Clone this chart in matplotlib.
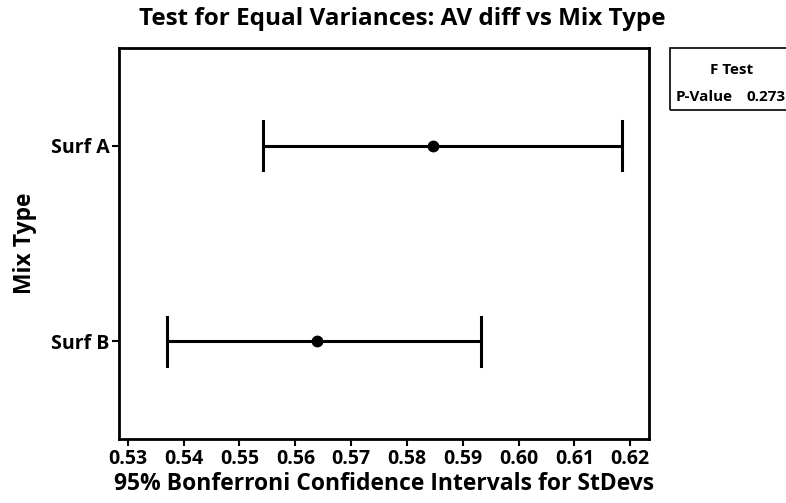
import matplotlib
matplotlib.use("Agg")
import matplotlib.pyplot as plt
from matplotlib.patches import Rectangle

plt.rcParams['font.family'] = ['Open Sans', 'DejaVu Sans']
plt.rcParams['font.weight'] = 'bold'

# data
groups = ['Surf B', 'Surf A']
lower = [0.5370, 0.5542]
stdev = [0.5639, 0.5847]
upper = [0.5933, 0.6185]
xticks = [0.53, 0.54, 0.55, 0.56, 0.57, 0.58, 0.59, 0.60, 0.61, 0.62]
p_value = 0.273

fig = plt.figure(figsize=(7.86, 5.03), dpi=100)
ax = fig.add_axes([0.152, 0.127, 0.674, 0.778])

for i, g in enumerate(groups):
    ax.plot([lower[i], upper[i]], [i, i], color='black', lw=2.2, solid_capstyle='butt')
    ax.plot([lower[i], lower[i]], [i - 0.125, i + 0.125], color='black', lw=2.2)
    ax.plot([upper[i], upper[i]], [i - 0.125, i + 0.125], color='black', lw=2.2)
    ax.plot(stdev[i], i, 'o', color='black', ms=7.5)

ax.set_xlim(0.5285, 0.6234)
ax.set_ylim(-0.5, 1.5)
ax.set_xticks(xticks)
ax.set_xticklabels([f'{t:.2f}' for t in xticks])
ax.set_yticks(range(len(groups)))
ax.set_yticklabels(groups)
ax.tick_params(labelsize=14, width=1.5, length=5, pad=2)
for s in ax.spines.values():
    s.set_linewidth(2)

ax.set_xlabel('95% Bonferroni Confidence Intervals for StDevs', fontsize=16.5, fontweight='bold', labelpad=2)
ax.set_ylabel('Mix Type', fontsize=16.5, fontweight='bold', labelpad=10)
fig.text(0.512, 1 - 19 / 503, 'Test for Equal Variances: AV diff vs Mix Type', ha='center', va='center',
         fontsize=17.5, fontweight='bold')

# F test box
fig.patches.append(Rectangle((670 / 786, 1 - 110 / 503), 0.2, 62 / 503, transform=fig.transFigure,
                             fill=False, edgecolor='black', lw=1.2))
fig.text(732 / 786, 1 - 70 / 503, 'F Test', ha='center', va='center', fontsize=11, fontweight='bold')
fig.text(676 / 786, 1 - 97 / 503, 'P-Value', ha='left', va='center', fontsize=11, fontweight='bold')
fig.text(786 / 786, 1 - 97 / 503, f'{p_value:.3f}', ha='right', va='center', fontsize=11, fontweight='bold')

fig.savefig('out.png', dpi=100)
